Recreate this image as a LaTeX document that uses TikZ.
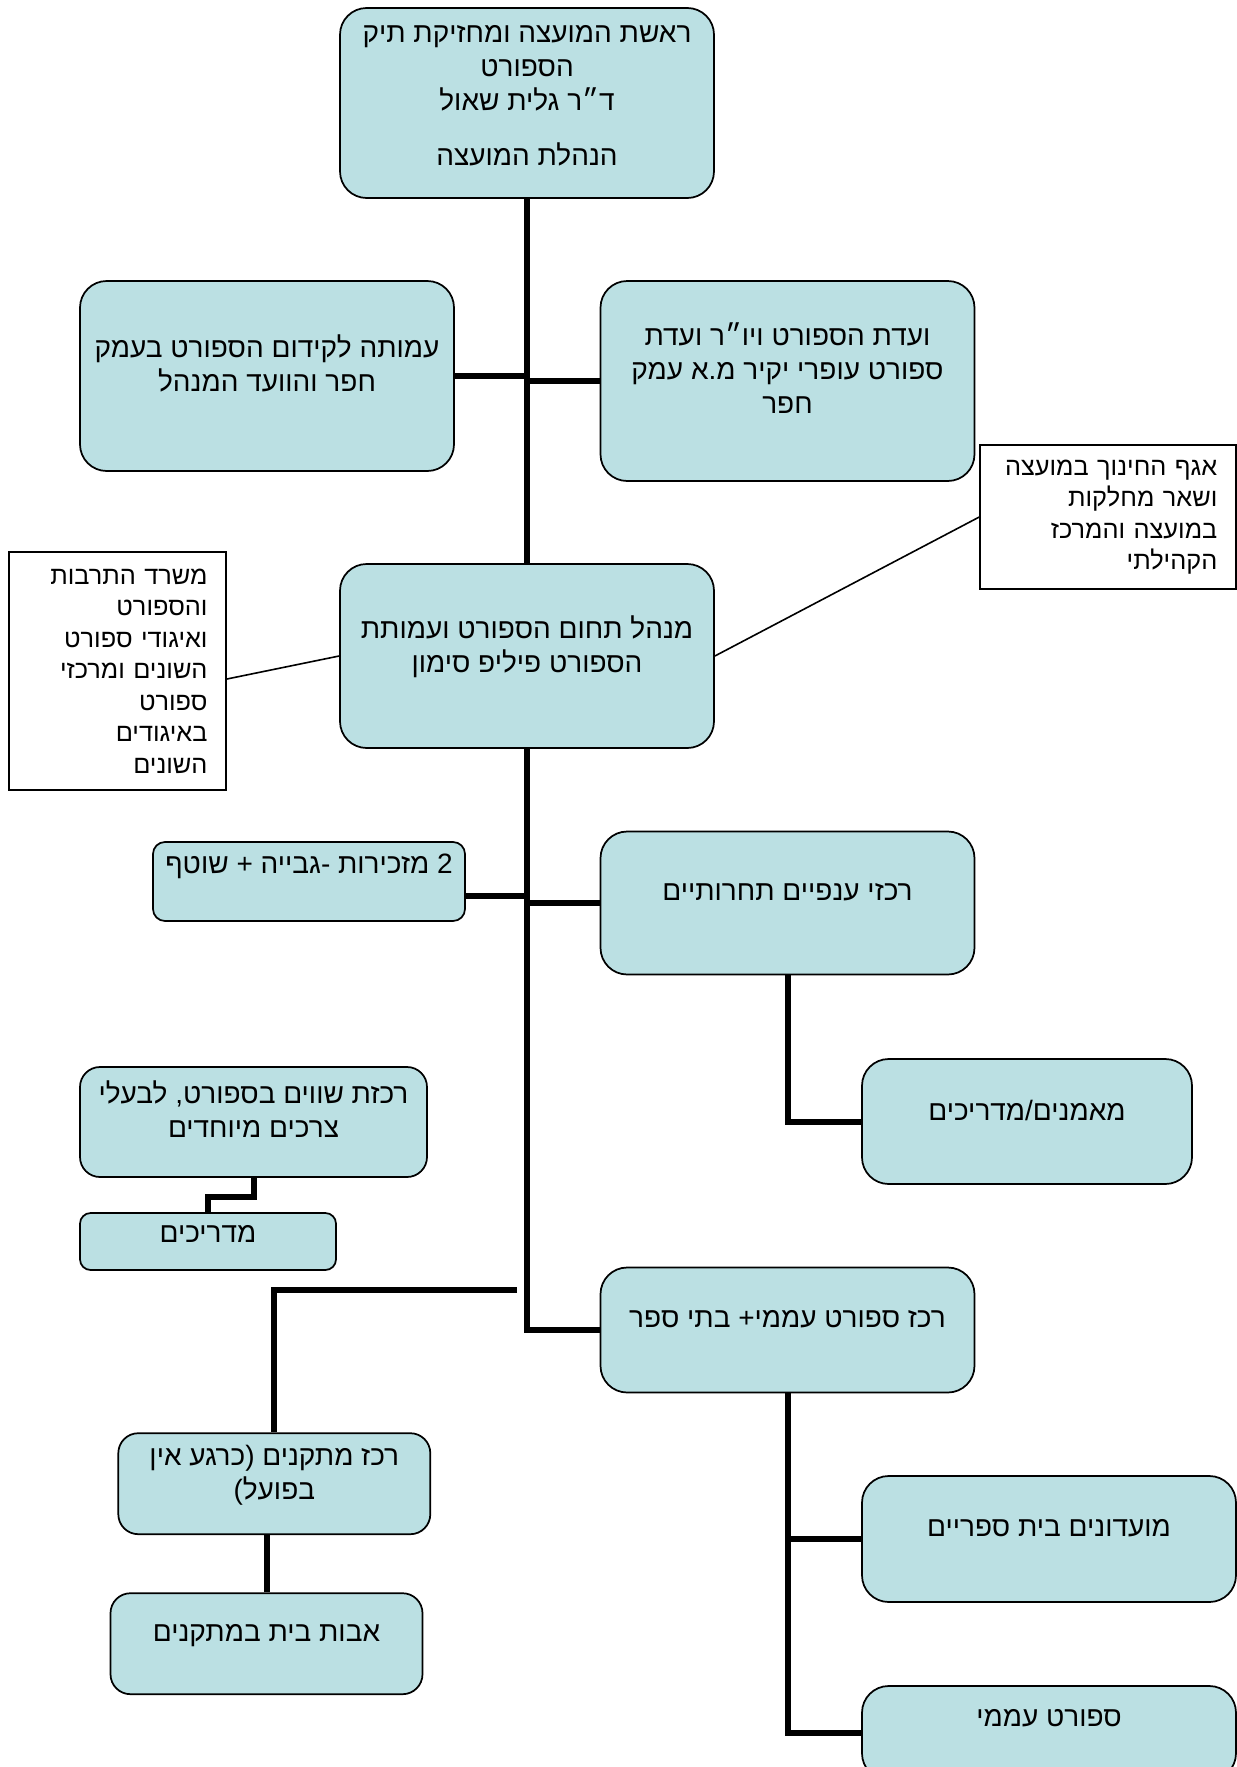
\documentclass[tikz,border=0pt]{standalone}
\usepackage{fontspec}
\setmainfont{Liberation Sans}
\newfontfamily\hebfont[Script=Hebrew]{Liberation Sans}
\TeXXeTstate=1
\definecolor{orgteal}{HTML}{BBE0E3}
\usetikzlibrary{positioning, calc}
\newcommand{\heb}[1]{\beginR #1\endR}

\tikzset{
  unitbox/.style={draw=black, line width=1.3pt, fill=orgteal, rounded corners=20pt,
    align=center, inner sep=2pt, text depth=16pt,
    font=\hebfont\fontsize{21pt}{25.5pt}\selectfont},
  notebox/.style={draw=black, line width=1.1pt, fill=white, align=right, inner xsep=14pt,
    font=\hebfont\fontsize{19pt}{23.6pt}\selectfont},
  link/.style={line width=4.5pt},
  thinlink/.style={line width=1.2pt}
}

\begin{document}
\begin{tikzpicture}[x=0.75pt, y=-0.75pt]
  \useasboundingbox (0,0) rectangle (1237,1767);

  % management
  \node[unitbox, minimum width=280.5pt, minimum height=142.5pt, text depth=11pt] (head) at (527,103)
    {\heb{ראשת המועצה ומחזיקת תיק}\\ \heb{הספורט}\\ \heb{ד״ר גלית שאול}\\[16pt] \heb{הנהלת המועצה}};
  \node[unitbox, minimum width=280.5pt, minimum height=142.5pt, text depth=20pt] (amuta) at (267,376)
    {\heb{עמותה לקידום הספורט בעמק}\\ \heb{חפר והוועד המנהל}};
  \node[unitbox, minimum width=280.5pt, minimum height=150pt, text depth=20pt] (cmte) at (787.5,381)
    {\heb{ועדת הספורט ויו״ר ועדת}\\ \heb{ספורט עופרי יקיר מ.א עמק}\\ \heb{חפר}};
  \node[unitbox, minimum width=280.5pt, minimum height=138pt, text depth=18pt] (mgr) at (527,656)
    {\heb{מנהל תחום הספורט ועמותת}\\ \heb{הספורט פיליפ סימון}};

  % partners
  \node[notebox, text width=164pt, minimum height=108pt] (edu) at (1108,517)
    {\heb{אגף החינוך במועצה}\\ \heb{ושאר מחלקות}\\ \heb{במועצה והמרכז}\\ \heb{הקהילתי}};
  \node[notebox, text width=134.75pt, minimum height=178.5pt] (culture) at (117.7,671)
    {\heb{משרד התרבות}\\ \heb{והספורט}\\ \heb{ואיגודי ספורט}\\ \heb{השונים ומרכזי}\\ \heb{ספורט}\\ \heb{באיגודים}\\ \heb{השונים}};

  % staff
  \node[unitbox, rounded corners=9pt, minimum width=234pt, minimum height=59.25pt, text depth=26pt] (sec) at (309,881.5)
    {\heb{2 מזכירות -גבייה + שוטף}};
  \node[unitbox, minimum width=280.5pt, minimum height=107.25pt] (comp) at (787.5,903)
    {\heb{רכזי ענפיים תחרותיים}};
  \node[unitbox, minimum width=247.5pt, minimum height=93.75pt] (coach) at (1027,1121.5)
    {\heb{מאמנים/מדריכים}};
  \node[unitbox, rounded corners=15pt, minimum width=260.25pt, minimum height=82.5pt, text depth=19pt] (spec) at (253.5,1122)
    {\heb{רכזת שווים בספורט, לבעלי}\\ \heb{צרכים מיוחדים}};
  \node[unitbox, rounded corners=8pt, minimum width=192pt, minimum height=42.75pt, text depth=11pt] (guides) at (208,1241.5)
    {\heb{מדריכים}};
  \node[unitbox, minimum width=280.5pt, minimum height=93.75pt] (pop) at (787.5,1330)
    {\heb{רכז ספורט עממי+ בתי ספר}};
  \node[unitbox, rounded corners=15pt, minimum width=234pt, minimum height=75.75pt, text depth=17pt] (fac) at (274.3,1483.7)
    {\heb{רכז מתקנים (כרגע אין}\\ \heb{בפועל)}};
  \node[unitbox, rounded corners=15pt, minimum width=234pt, minimum height=75.75pt] (keep) at (266.5,1643.7)
    {\heb{אבות בית במתקנים}};
  \node[unitbox, minimum width=280.5pt, minimum height=94.5pt, text depth=17pt] (clubs) at (1049,1539)
    {\heb{מועדונים בית ספריים}};
  \node[unitbox, minimum width=280.5pt, minimum height=70.5pt, text depth=22pt] (folk) at (1049,1733)
    {\heb{ספורט עממי}};
  \coordinate (gap) at (517,1290);

  % connectors
  \draw[link] (head.south) -- (mgr.north);
  \draw[link] (amuta.east) -- (amuta.east -| head.south);
  \draw[link] (cmte.west) -- (cmte.west -| head.south);
  \draw[thinlink] ([yshift=-6pt]culture.east) -- (mgr.west);
  \draw[thinlink] (mgr.east) -- (edu.west);
  \draw[link] (mgr.south) |- (pop.west);
  \draw[link] ([yshift=-11pt]sec.east) -- ([yshift=-11pt]sec.east -| mgr.south);
  \draw[link] (comp.west) -- (comp.west -| mgr.south);
  \draw[link] (comp.south) |- (coach.west);
  \draw[link] (spec.south) -- ++(0,19) -| (guides.north);
  \draw[link] (gap) -| (fac.north);
  \draw[link] (keep.north) -- (keep.north |- fac.south);
  \draw[link] (pop.south) |- (clubs.west);
  \draw[link] (pop.south) |- (folk.west);
\end{tikzpicture}
\end{document}
